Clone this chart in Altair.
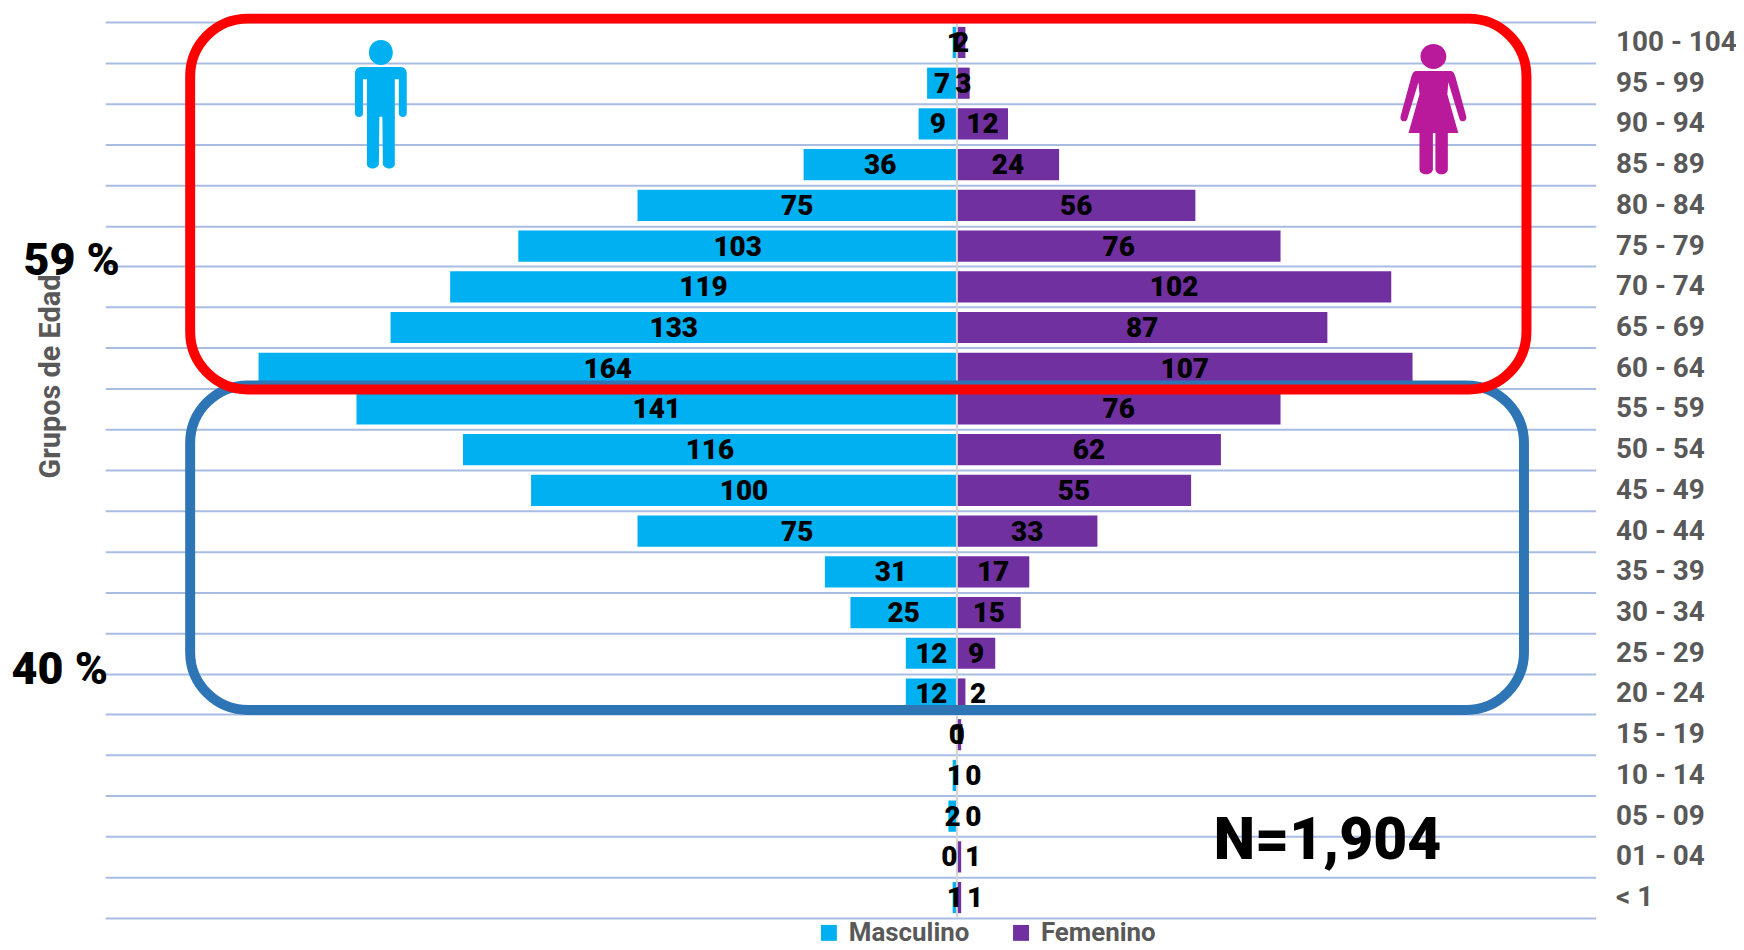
import altair as alt
import pandas as pd

AGES = ["100 - 104", "95 - 99", "90 - 94", "85 - 89", "80 - 84", "75 - 79", "70 - 74", "65 - 69",
        "60 - 64", "55 - 59", "50 - 54", "45 - 49", "40 - 44", "35 - 39", "30 - 34", "25 - 29",
        "20 - 24", "15 - 19", "10 - 14", "05 - 09", "01 - 04", "< 1"]
MALE = [1, 7, 9, 36, 75, 103, 119, 133, 164, 141, 116, 100, 75, 31, 25, 12, 12, 0, 1, 2, 0, 1]
FEMALE = [2, 3, 12, 24, 56, 76, 102, 87, 107, 76, 62, 55, 33, 17, 15, 9, 2, 1, 0, 0, 1, 1]
SEXES = ["Masculino", "Femenino"]
COLORS = ["#00B0F0", "#7030A0"]

FONT = "Roboto"
HEAVY = 900
GREY = "#595959"


def to_shape(px_path, half):
    """Scale an icon outline written in pixels to the symbol unit box."""
    out = []
    for tok in px_path.split():
        if tok[0].isalpha():
            out.append(tok)
        else:
            out.append(",".join(f"{float(v) / half:.4f}" for v in tok.split(",")))
    return " ".join(out)


MAN = to_shape(
    "M -12,-52 C -12,-59 -7,-64.5 0,-64.5 C 7,-64.5 12,-59 12,-52 C 12,-45 7,-39.5 0,-39.5 C -7,-39.5 -12,-45 -12,-52 Z "
    "M -20,-37.5 L 20,-37.5 C 24,-37.5 26,-34 26,-31 L 26,9 C 26,14 18,14 18,9 L 18,-25 L 14,-25 L 14,60 "
    "C 14,66 3,66 2,60 L 1.5,12.5 L -1.5,12.5 L -2,60 C -3,66 -14,66 -14,60 L -14,-25 L -18,-25 L -18,9 "
    "C -18,14 -26,14 -26,9 L -26,-31 C -26,-34 -24,-37.5 -20,-37.5 Z", 64.5)
WOMAN = to_shape(
    "M -13,-53 C -13,-60 -7,-65.5 0,-65.5 C 7,-65.5 13,-60 13,-53 C 13,-46 7,-40.5 0,-40.5 C -7,-40.5 -13,-46 -13,-53 Z "
    "M -17,-38.5 L 17,-38.5 C 20,-38.5 21,-36 22,-33 L 33,7 C 34,13 27,14 26,9 L 15,-27 L 14,-15 L 25,24 L 14.5,24 L 14.5,60 "
    "C 14.5,67 2,67 2,60 L 2,24 L -0.5,24 L -0.5,60 C -0.5,67 -14,67 -14,60 L -14,24 L -25,24 L -14,-15 L -15,-27 L -26,9 "
    "C -27,14 -34,13 -33,7 L -22,-33 C -21,-36 -20,-38.5 -17,-38.5 Z", 65.5)

rows = []
for age, m, f in zip(AGES, MALE, FEMALE):
    rows.append({"age": age, "sex": "Masculino", "value": m, "signed": -m, "mid": -m / 2})
    rows.append({"age": age, "sex": "Femenino", "value": f, "signed": f, "mid": f / 2})
df = pd.DataFrame(rows)
base = alt.Chart(df)

y = alt.Y("age:N", sort=AGES,
          scale=alt.Scale(domain=AGES, paddingInner=0, paddingOuter=0),
          axis=alt.Axis(orient="right", title=None, domain=False, ticks=False, grid=True, tickBand="extent",
                        gridColor="#A9BDE3", gridWidth=2, labelPadding=20, labelFont=FONT, labelFontSize=28,
                        labelFontWeight="bold", labelColor=GREY, labelAlign="left", labelBaseline="middle",
                        labelOverlap=False))
xscale = alt.Scale(domain=[-200, 150], nice=False, zero=False)

bars = base.mark_bar(size=31.3).encode(
    x=alt.X("signed:Q", scale=xscale, axis=None),
    y=y,
    color=alt.Color("sex:N", scale=alt.Scale(domain=SEXES, range=COLORS),
                    legend=alt.Legend(orient="none", legendX=714, legendY=902, direction="horizontal", title=None,
                                      symbolType="square", symbolSize=256, symbolStrokeWidth=0,
                                      labelFont=FONT, labelFontSize=26, labelFontWeight="bold", labelColor=GREY,
                                      labelOffset=7, columnPadding=38)),
)

center = alt.Chart(pd.DataFrame({"x0": [0]})).mark_rule(color="#D4D4D4", strokeWidth=2).encode(
    x=alt.X("x0:Q", scale=xscale, axis=None))

# Small values whose labels sit beside the bar instead of on it
NUDGES = [("Femenino", "10 - 14", 16.5), ("Femenino", "05 - 09", 16.5), ("Femenino", "01 - 04", 14),
          ("Femenino", "< 1", 16), ("Femenino", "20 - 24", 17), ("Masculino", "01 - 04", -7.5)]


def is_nudged(sex, age):
    return f"(datum.sex === '{sex}' && datum.age === '{age}')"


any_nudged = " || ".join(is_nudged(s, a) for s, a, _ in NUDGES)
text_style = dict(font=FONT, fontSize=28, fontWeight=HEAVY, color="black", align="center", baseline="middle", dy=1.5)
label_enc = dict(x=alt.X("mid:Q", scale=xscale, axis=None), y=y, text=alt.Text("value:Q"))
labels = [base.transform_filter(f"!({any_nudged})").mark_text(**text_style).encode(**label_enc)]
for s, a, d in NUDGES:
    labels.append(base.transform_filter(is_nudged(s, a)).mark_text(dx=d, **text_style).encode(**label_enc))

one = pd.DataFrame({"a": [0]})
X0 = 105.7
Y0 = 20


def box(color, x1, x2, y1, y2):
    return alt.Chart(one).mark_rect(filled=False, stroke=color, strokeWidth=10, cornerRadius=58).encode(
        x=alt.value(x1 - X0), x2=alt.value(x2 - X0), y=alt.value(y1 - Y0), y2=alt.value(y2 - Y0))


blue = box("#2E75B6", 191, 1531, 385, 711)
red = box("#FF0000", 191, 1533.5, 16.5, 389)


def icon(path, color, px, py, h):
    return alt.Chart(one).mark_point(shape=path, filled=True, fill=color, opacity=1, size=h * h, strokeWidth=0).encode(
        x=alt.value(px - X0), y=alt.value(py - Y0))


man = icon(MAN, "#00B0F0", 382.6, 102.5, 129)
woman = icon(WOMAN, "#B81A9B", 1440, 107.5, 131)


def note(txt, px, py, size, color="black", angle=0, weight=HEAVY):
    return alt.Chart(pd.DataFrame({"t": [txt]})).mark_text(
        font=FONT, fontSize=size, fontWeight=weight, color=color, align="center", baseline="middle", angle=angle
    ).encode(x=alt.value(px - X0), y=alt.value(py - Y0), text="t:N")


title = note("Grupos de Edad", 51, 376, 29, GREY, 270, "bold")
p59 = note("59 %", 72, 260, 45)
p40 = note("40 %", 60, 671, 45)
total = note("N=1,904", 1333.6, 843, 59)

chart = alt.layer(
    bars, center, *labels, blue, red, man, woman, title, p59, p40, total
).properties(
    width=1497.3, height=900, autosize="none",
    padding={"left": 97.7, "top": 12, "right": 141, "bottom": 30},
).configure_view(stroke=None)

chart.save("out.html", embed_options={"renderer": "svg", "actions": False})
